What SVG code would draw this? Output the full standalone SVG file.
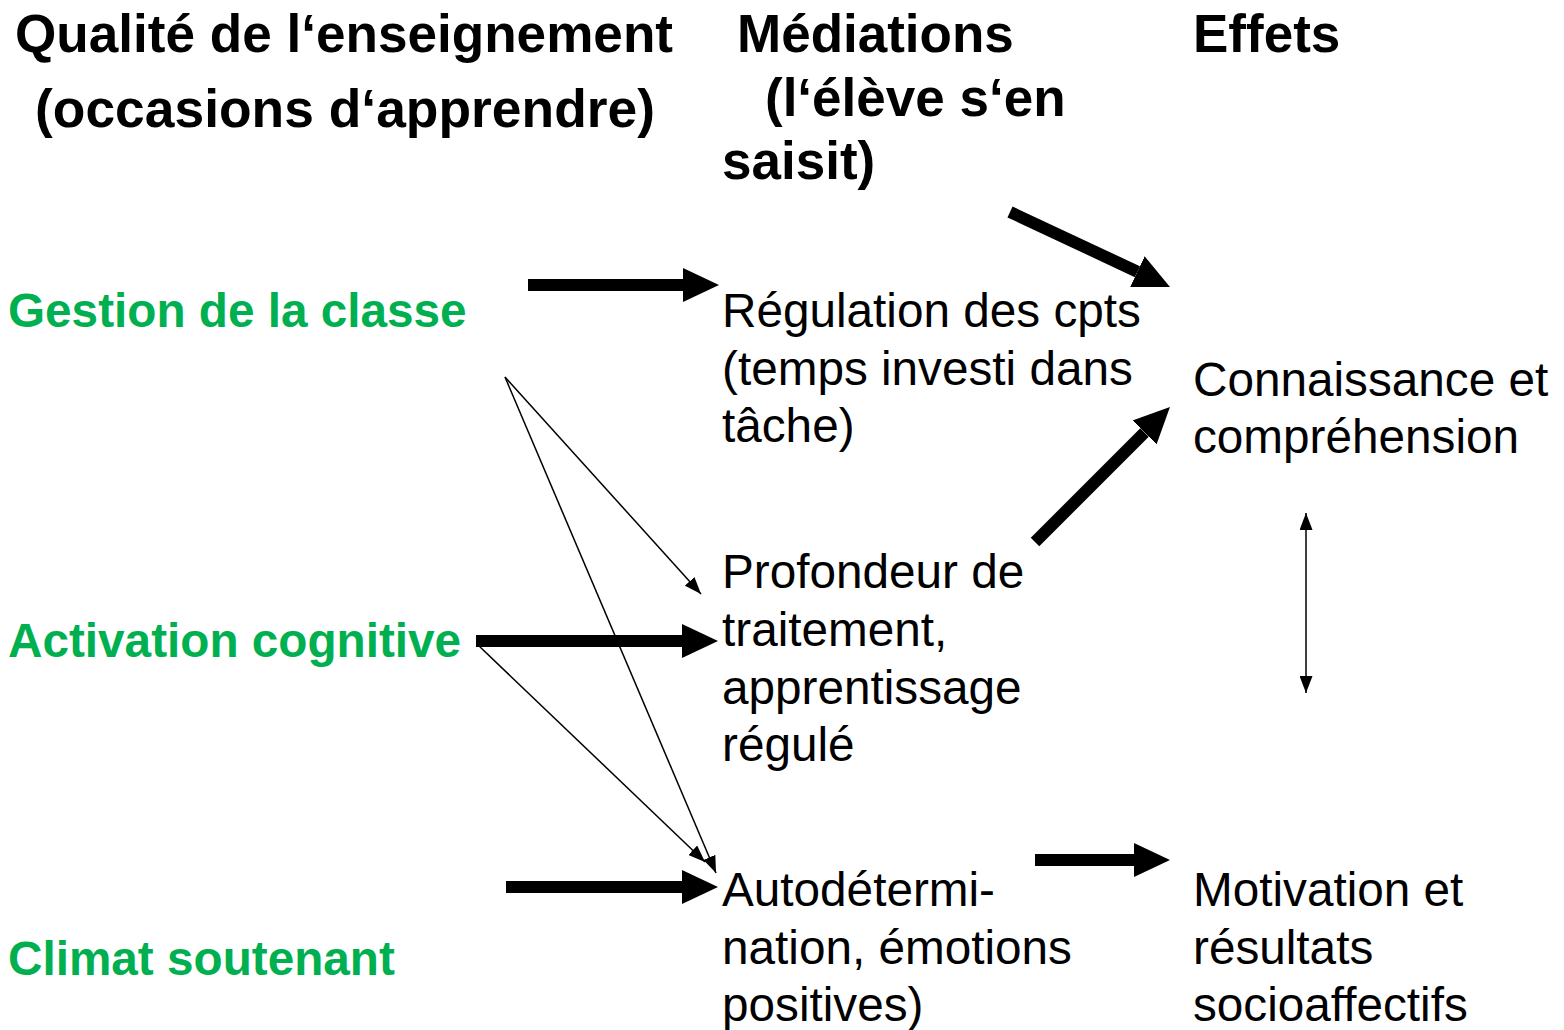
<svg xmlns="http://www.w3.org/2000/svg" width="1564" height="1030" viewBox="0 0 1564 1030">
  <style>
    .head { font-family: "Liberation Sans", Arial, sans-serif; font-weight: bold; font-size: 53px; fill: #000; }
    .lbl { font-family: "Liberation Sans", Arial, sans-serif; font-weight: bold; font-size: 47.7px; fill: #00B050; }
    .txt { font-family: "Liberation Sans", Arial, sans-serif; font-size: 47.7px; fill: #000; }
    .thick { stroke: #000; stroke-width: 12; fill: none; marker-end: url(#bigHead); }
    .thin { stroke: #000; stroke-width: 1.5; fill: none; marker-end: url(#smallHead); }
  </style>
  <defs>
    <marker id="bigHead" markerUnits="userSpaceOnUse" markerWidth="36" markerHeight="36" viewBox="0 0 36 36" refX="0" refY="18" orient="auto">
      <path d="M0,1 L36,18 L0,35 Z" fill="#000"/>
    </marker>
    <marker id="smallHead" markerUnits="userSpaceOnUse" markerWidth="17" markerHeight="13" viewBox="0 0 17 13" refX="17" refY="6.5" orient="auto-start-reverse">
      <path d="M0,0 L17,6.5 L0,13 Z" fill="#000"/>
    </marker>
  </defs>

  <rect width="1564" height="1030" fill="#fff"/>

  <!-- column headings -->
  <g id="heading-quality">
    <text class="head" x="15" y="52" textLength="658" lengthAdjust="spacingAndGlyphs">Qualité de l‘enseignement</text>
    <text class="head" x="35" y="127" textLength="620" lengthAdjust="spacingAndGlyphs">(occasions d‘apprendre)</text>
  </g>
  <g id="heading-mediations">
    <text class="head" x="737" y="52">Médiations</text>
    <text class="head" x="765" y="116">(l‘élève s‘en</text>
    <text class="head" x="722" y="179">saisit)</text>
  </g>
  <g id="heading-effects">
    <text class="head" x="1193" y="52">Effets</text>
  </g>

  <!-- teaching quality dimensions -->
  <g id="node-gestion">
    <text class="lbl" x="8" y="327">Gestion de la classe</text>
  </g>
  <g id="node-activation">
    <text class="lbl" x="8" y="657">Activation cognitive</text>
  </g>
  <g id="node-climat">
    <text class="lbl" x="8" y="975">Climat soutenant</text>
  </g>

  <!-- mediations -->
  <g id="node-regulation">
    <text class="txt" x="722" y="327">Régulation des cpts</text>
    <text class="txt" x="722" y="385">(temps investi dans</text>
    <text class="txt" x="722" y="442">tâche)</text>
  </g>
  <g id="node-profondeur">
    <text class="txt" x="722" y="588">Profondeur de</text>
    <text class="txt" x="722" y="646">traitement,</text>
    <text class="txt" x="722" y="704">apprentissage</text>
    <text class="txt" x="722" y="761">régulé</text>
  </g>
  <g id="node-autodetermination">
    <text class="txt" x="722" y="906">Autodétermi-</text>
    <text class="txt" x="722" y="964">nation, émotions</text>
    <text class="txt" x="722" y="1021">positives)</text>
  </g>

  <!-- effects -->
  <g id="node-connaissance">
    <text class="txt" x="1193" y="396">Connaissance et</text>
    <text class="txt" x="1193" y="453">compréhension</text>
  </g>
  <g id="node-motivation">
    <text class="txt" x="1193" y="906">Motivation et</text>
    <text class="txt" x="1193" y="964">résultats</text>
    <text class="txt" x="1193" y="1021">socioaffectifs</text>
  </g>

  <!-- connectors -->
  <g id="connectors">
    <line class="thick" x1="528" y1="285" x2="683" y2="285"/>
    <line class="thick" x1="476" y1="641" x2="682" y2="641" stroke-width="13"/>
    <line class="thick" x1="506" y1="887" x2="682" y2="887"/>
    <line class="thick" x1="1035" y1="860" x2="1134" y2="860"/>
    <line class="thick" x1="1010" y1="212" x2="1137.4" y2="271.7"/>
    <line class="thick" x1="1035" y1="542" x2="1144.5" y2="432.5"/>

    <line class="thin" x1="505" y1="377" x2="701" y2="594"/>
    <line class="thin" x1="505" y1="377" x2="716" y2="873"/>
    <line class="thin" x1="478" y1="645" x2="705" y2="862"/>

    <line class="thin" x1="1306" y1="513" x2="1306" y2="693" stroke-width="2" marker-start="url(#smallHead)"/>
  </g>
</svg>
